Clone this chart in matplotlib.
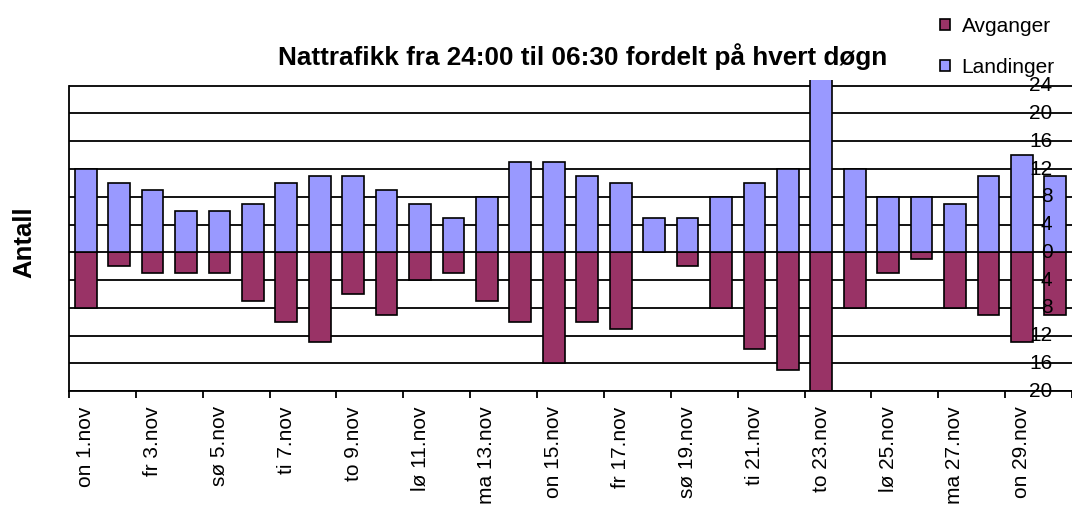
import matplotlib
matplotlib.use('Agg')
import matplotlib.pyplot as plt
import numpy as np

plt.rcParams['font.family'] = ['Liberation Sans', 'DejaVu Sans']

# Data for each night in november (1..30)
days = list(range(1, 31))
landinger = [12, 10, 9, 6, 6, 7, 10, 11, 11, 9, 7, 5, 8, 13, 13,
             11, 10, 5, 5, 8, 10, 12, 25, 12, 8, 8, 7, 11, 14, 11]
avganger = [8, 2, 3, 3, 3, 7, 10, 13, 6, 9, 4, 3, 7, 10, 16,
            10, 11, 0, 2, 8, 14, 17, 20, 8, 3, 1, 8, 9, 13, 9]

# every second day gets a label
tick_labels = ['on 1.nov', 'fr 3.nov', 'sø 5.nov', 'ti 7.nov', 'to 9.nov',
               'lø 11.nov', 'ma 13.nov', 'on 15.nov', 'fr 17.nov', 'sø 19.nov',
               'ti 21.nov', 'to 23.nov', 'lø 25.nov', 'ma 27.nov', 'on 29.nov']
y_ticks = [24, 20, 16, 12, 8, 4, 0, -4, -8, -12, -16, -20]

fig = plt.figure(figsize=(10.72, 5.11), dpi=100)
ax = fig.add_axes([69 / 1072, 1 - 391 / 511, 1003 / 1072, (391 - 80.2) / 511])

x = np.arange(len(days))

# horizontal gridlines behind the bars
for v in y_ticks:
    ax.axhline(v, color='black', lw=1.3, zorder=1)

ax.bar(x, [-a for a in avganger], width=0.65, color='#993366',
       edgecolor='black', linewidth=1.2, zorder=2, label='Avganger')
ax.bar(x, landinger, width=0.65, color='#9999FF',
       edgecolor='black', linewidth=1.2, zorder=2, label='Landinger')

ax.set_xlim(-0.5, len(days) - 0.5)
ax.set_ylim(-20, 24.8)

# value labels (absolute values) drawn on the right side over the bars
for v in y_ticks:
    ax.text(28.92, v, str(abs(v)), ha='right', va='center', fontsize=15, zorder=5)

ax.set_yticks([])
for s in ['top', 'right']:
    ax.spines[s].set_visible(False)
ax.spines['left'].set_bounds(-20, 24)
ax.spines['left'].set_linewidth(1.3)
ax.spines['bottom'].set_linewidth(1.3)

# labels on category centres, tick marks on every second boundary
ax.set_xticks(x[::2])
ax.set_xticklabels(tick_labels, rotation=90, fontsize=15, va='top', ha='center')
ax.tick_params(axis='x', which='major', length=0, pad=11)
ax.set_xticks(np.arange(-0.5, len(days), 2), minor=True)
ax.tick_params(axis='x', which='minor', length=5, width=1.3, direction='out')

ax.set_ylabel('Antall', fontsize=18.5, fontweight='bold')
ax.yaxis.set_label_coords(-0.0329, 0.48)

fig.text(583 / 1072, 1 - 57 / 511, 'Nattrafikk fra 24:00 til 06:30 fordelt på hvert døgn',
         ha='center', va='center', fontsize=18.8, fontweight='bold')

fig.legend(loc='upper left', bbox_to_anchor=(940 / 1072, 1 - 17 / 511), frameon=False,
           fontsize=15, handlelength=0.48, handleheight=0.48, handletextpad=0.55,
           labelspacing=1.05, borderpad=0, borderaxespad=0)

fig.savefig('out.png', dpi=100)
